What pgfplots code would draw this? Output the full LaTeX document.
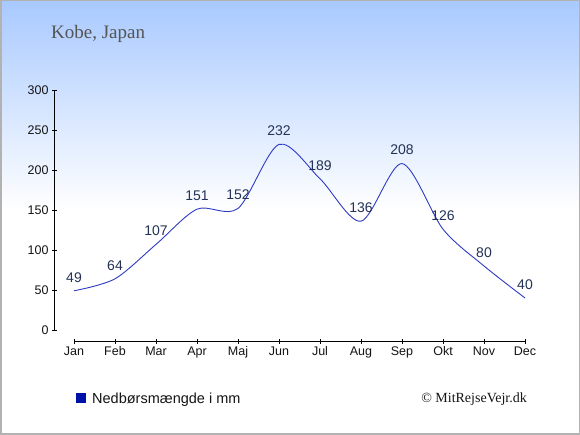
\documentclass[border=0pt]{standalone}
\usepackage{pgfplots}
\pgfplotsset{compat=1.18}
\usepackage{fontspec}
\setmainfont{Liberation Sans}
\newfontfamily\serif{Liberation Serif}
\definecolor{bgtop}{RGB}{168,201,255}
\definecolor{linec}{RGB}{45,58,195}
\definecolor{labc}{RGB}{35,50,85}
\definecolor{legc}{RGB}{0,17,170}
\definecolor{titc}{RGB}{85,85,85}
\definecolor{txtc}{RGB}{20,20,20}
\newcommand\tickfont{\fontsize{12.5bp}{15bp}\selectfont}
\begin{document}
\begin{tikzpicture}[x=1bp,y=1bp]
\useasboundingbox (0,0) rectangle (580,435);
\fill[white] (0,0) rectangle (580,226);
\shade[top color=bgtop,bottom color=white] (0,225) rectangle (580,435);
\draw[black!30,line width=1.5bp] (0.75,0.75) rectangle (579.25,434.25);
\node[anchor=base west,inner sep=0,text=titc,font=\serif\fontsize{19bp}{22bp}\selectfont] at (51,396) {Kobe, Japan};
\begin{axis}[
  at={(54.5bp,93.5bp)}, anchor=south west,
  scale only axis, width=470.5bp, height=251.5bp,
  xmin=-0.476, xmax=11, ymin=-14.4, ymax=300,
  axis line style={draw=none},
  axis x line*=bottom, axis y line*=left,
  tick align=center, major tick length=5bp,
  tick style={black, line width=0.9bp},
  xtick={0,...,11},
  xticklabels={Jan,Feb,Mar,Apr,Maj,Jun,Jul,Aug,Sep,Okt,Nov,Dec},
  ytick={0,50,...,300},
  xticklabel style={font=\tickfont, text=txtc, yshift=1bp},
  yticklabel style={font=\tickfont, text=txtc},
  clip=false,
  /pgf/number format/assume math mode=true,
]
\draw[black,line width=0.9bp] (axis cs:-0.476,0) -- (axis cs:-0.476,300);
\draw[black,line width=0.9bp] (axis cs:0,-14.4) -- (axis cs:11,-14.4);
\addplot[linec, line width=0.9bp, smooth, tension=0.5,
  nodes near coords,
  every node near coord/.style={anchor=south, inner sep=0, yshift=8bp,
     text=labc, font=\fontsize{14bp}{16bp}\selectfont}]
  coordinates {(0,49) (1,64) (2,107) (3,151) (4,152) (5,232) (6,189) (7,136) (8,208) (9,126) (10,80) (11,40)};
\end{axis}
\fill[legc] (76,32) rectangle (85.5,41.5);
\node[anchor=base west,inner sep=0,text=txtc,font=\fontsize{14.5bp}{17bp}\selectfont] at (92,31) {Nedbørsmængde i mm};
\node[anchor=base east,inner sep=0,text=txtc,font=\serif\fontsize{14bp}{17bp}\selectfont] at (527,32) {© MitRejseVejr.dk};
\end{tikzpicture}
\end{document}
